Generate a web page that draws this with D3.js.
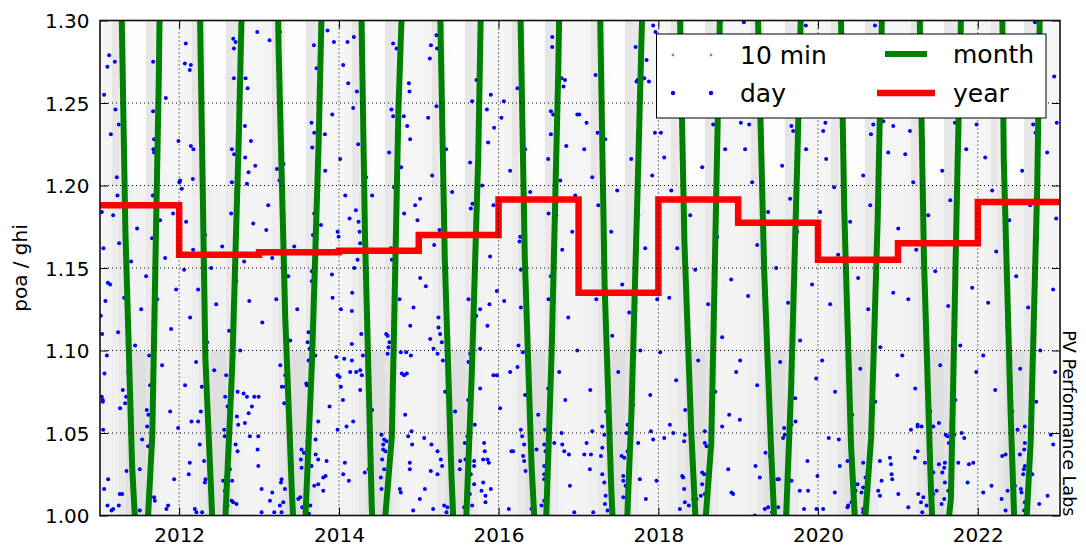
<!DOCTYPE html>
<html>
<head>
<meta charset="utf-8">
<script src="https://cdn.jsdelivr.net/npm/d3@7"></script>
<style>
  body { margin: 0; background: #fff; }
  svg { font-family: "DejaVu Sans", sans-serif; }
</style>
</head>
<body>
<div id="chart"></div>
<script>
// yearly mean poa/ghi (step line)
var yearList   = [2011, 2012, 2013, 2014, 2015, 2016, 2017, 2018, 2019, 2020, 2021, 2022];
var yearValues = [1.188, 1.158, 1.1595, 1.1605, 1.170, 1.1915, 1.135, 1.1915, 1.1775, 1.155, 1.165, 1.190];

// monthly means, Jan..Dec (plotted at month end)
var month2011 = [1.78, 1.60, 1.405, 1.173, 1.030, 0.955, 0.970, 1.048, 1.265, 1.600, 1.72, 1.80];
var month2012 = [1.76, 1.58, 1.350, 1.095, 1.000, 0.933, 1.000, 1.091, 1.230, 1.410, 1.70, 1.78];
var month2013 = [1.75, 1.55, 1.2825, 1.121, 1.013, 0.934, 0.997, 1.095, 1.226, 1.405, 1.70, 1.78];
var month2014 = [1.76, 1.60, 1.420, 1.170, 1.006, 0.910, 0.998, 1.048, 1.246, 1.366, 1.68, 1.77];
var month2015 = [1.77, 1.58, 1.370, 1.156, 1.023, 0.926, 0.977, 1.084, 1.217, 1.448, 1.70, 1.79];
var month2016 = [1.76, 1.57, 1.380, 1.156, 1.030, 0.955, 0.975, 1.100, 1.269, 1.510, 1.71, 1.78];
var month2017 = [1.75, 1.58, 1.380, 1.140, 1.0145, 0.9275, 0.961, 1.063, 1.208, 1.367, 1.69, 1.77];
var month2018 = [1.76, 1.58, 1.370, 1.166, 1.052, 0.970, 0.989, 1.044, 1.243, 1.440, 1.70, 1.78];
var month2019 = [1.75, 1.55, 1.310, 1.148, 1.042, 0.952, 0.971, 1.077, 1.223, 1.395, 1.69, 1.77];
var month2020 = [1.76, 1.59, 1.420, 1.186, 1.043, 0.967, 0.991, 1.047, 1.179, 1.377, 1.70, 1.78];
var month2021 = [1.76, 1.58, 1.380, 1.154, 1.019, 0.923, 0.972, 1.010, 1.210, 1.387, 1.70, 1.78];
var month2022 = [1.77, 1.66, 1.600, 1.215, 1.063, 0.946, 0.967, 1.045, 1.200, 1.480, 1.70, 1.78];

// 10 min cloud: typical grey density per calendar month, in three value bands
var tenMinLow  = [0.10, 0.11, 0.13, 0.18, 0.24, 0.26, 0.26, 0.22, 0.15, 0.10, 0.09, 0.09]; // 1.00-1.10
var tenMinMid  = [0.09, 0.10, 0.14, 0.20, 0.14, 0.11, 0.11, 0.18, 0.20, 0.11, 0.09, 0.08]; // 1.10-1.20
var tenMinHigh = [0.08, 0.09, 0.20, 0.14, 0.02, 0.01, 0.03, 0.20, 0.18, 0.09, 0.08, 0.08]; // 1.20-1.30

// daily values [decimal year, poa/ghi]
var dayDots = [
  [2011.123,1.279],[2011.101,1.272],[2011.194,1.275],[2011.060,1.255],[2011.202,1.246],[2011.244,1.237],[2011.144,1.231],
  [2011.674,1.275],[2011.833,1.253],[2011.674,1.245],[2012.083,1.286],[2012.071,1.274],[2012.146,1.273],[2012.133,1.270],
  [2012.676,1.289],[2012.705,1.287],[2012.684,1.283],[2012.684,1.265],[2012.830,1.265],[2012.855,1.259],[2012.822,1.236],
  [2012.976,1.293],[2013.130,1.288],[2013.260,1.293],[2013.686,1.285],[2013.857,1.294],[2013.937,1.287],[2013.719,1.271],
  [2013.916,1.243],[2013.656,1.238],[2013.690,1.232],[2013.824,1.231],[2014.107,1.287],[2014.187,1.290],[2014.053,1.273],
  [2014.116,1.262],[2014.225,1.257],[2014.178,1.247],[2014.679,1.286],[2014.721,1.283],[2014.876,1.262],[2014.884,1.257],
  [2014.658,1.246],[2014.679,1.242],[2014.813,1.242],[2014.855,1.236],[2015.118,1.241],[2015.222,1.291],[2015.152,1.285],
  [2015.230,1.283],[2015.139,1.277],[2015.222,1.248],[2015.723,1.264],[2015.669,1.251],[2015.903,1.255],[2015.853,1.246],
  [2016.066,1.251],[2016.036,1.241],[2015.944,1.235],[2016.236,1.259],[2016.286,1.294],[2016.671,1.290],[2016.671,1.284],
  [2016.787,1.265],[2016.830,1.264],[2016.812,1.260],[2016.654,1.245],[2016.683,1.243],[2016.654,1.231],[2016.984,1.243],
  [2017.935,1.297],[2017.964,1.293],[2017.714,1.284],[2017.852,1.276],[2017.739,1.264],[2017.726,1.263],[2017.823,1.265],
  [2017.882,1.263],[2017.213,1.267],[2017.100,1.238],[2017.009,1.243],[2017.238,1.232],[2017.957,1.232],[2018.032,1.232],
  [2018.687,1.237],[2019.034,1.238],[2019.138,1.237],[2019.667,1.236],[2019.689,1.233],[2020.065,1.233],[2020.093,1.238],
  [2020.662,1.231],[2020.691,1.237],[2020.816,1.239],[2020.941,1.236],[2021.150,1.233],[2021.714,1.238],[2021.984,1.237],
  [2022.694,1.237],[2022.723,1.232],[2022.990,1.238],[2022.957,1.266],[2019.848,1.297],[2019.071,1.299],[2022.716,1.299],
  [2020.712,1.297],
  [2011.048,1.052],[2011.599,1.054],[2011.987,1.053],[2011.536,1.046],[2011.611,1.042],[2011.340,1.027],[2011.507,1.028],
  [2011.110,1.022],[2011.060,1.016],[2011.256,1.013],[2011.286,1.013],[2011.173,1.004],[2011.102,1.006],[2011.152,1.003],
  [2011.244,1.006],[2011.937,1.022],[2011.862,1.006],[2011.841,1.004],[2011.686,1.011],[2011.695,1.009],[2011.507,1.003],
  [2012.154,1.057],[2012.237,1.057],[2012.258,1.043],[2012.133,1.032],[2012.312,1.033],[2012.120,1.025],[2012.329,1.022],
  [2012.321,1.020],[2012.571,1.048],[2012.563,1.052],[2012.705,1.043],[2012.730,1.039],[2012.634,1.028],[2012.550,1.021],
  [2012.663,1.021],[2012.571,1.015],[2012.655,1.009],[2012.676,1.008],[2012.605,1.006],[2012.717,1.007],[2012.196,1.004],
  [2012.216,1.002],[2012.287,1.002],[2012.822,1.056],[2012.884,1.048],[2012.989,1.048],[2012.738,1.055],[2012.980,1.040],
  [2012.989,1.030],[2013.030,1.016],[2013.164,1.014],[2013.135,1.009],[2013.030,1.002],[2013.189,1.002],[2013.260,1.006],
  [2013.281,1.002],[2013.281,1.022],[2013.273,1.020],[2013.323,1.016],[2013.302,1.008],[2013.531,1.040],[2013.561,1.038],
  [2013.607,1.045],[2013.707,1.046],[2013.707,1.037],[2013.740,1.034],[2013.523,1.034],[2013.531,1.029],[2013.657,1.030],
  [2013.845,1.033],[2013.832,1.024],[2013.803,1.023],[2013.740,1.019],[2013.803,1.015],[2013.690,1.018],[2013.515,1.011],
  [2013.490,1.010],[2013.640,1.006],[2013.623,1.001],[2013.540,1.005],[2013.740,1.057],[2013.982,1.052],[2014.095,1.054],
  [2014.178,1.057],[2014.074,1.032],[2014.053,1.025],[2014.124,1.021],[2014.324,1.026],[2014.374,1.028],[2014.533,1.049],
  [2014.566,1.046],[2014.554,1.043],[2014.596,1.045],[2014.554,1.040],[2014.583,1.039],[2014.541,1.034],[2014.525,1.023],
  [2014.533,1.016],[2014.763,1.016],[2014.775,1.014],[2014.566,1.028],[2015.013,1.010],[2014.930,1.003],[2014.917,1.043],
  [2014.909,1.051],[2014.867,1.048],[2014.888,1.028],[2014.888,1.032],[2015.068,1.047],[2015.159,1.043],[2015.235,1.039],
  [2015.276,1.034],[2015.293,1.030],[2015.151,1.027],[2015.235,1.025],[2015.076,1.016],[2015.180,1.004],[2015.702,1.055],
  [2015.610,1.048],[2015.577,1.044],[2015.585,1.034],[2015.518,1.033],[2015.694,1.033],[2015.694,1.030],[2015.514,1.028],
  [2015.652,1.025],[2015.819,1.044],[2015.827,1.039],[2015.807,1.034],[2015.861,1.034],[2015.878,1.032],[2015.903,1.016],
  [2015.807,1.020],[2015.786,1.015],[2015.836,1.012],[2015.836,1.008],[2015.694,1.019],[2015.318,1.006],[2015.360,1.005],
  [2015.347,1.002],[2015.669,1.006],[2015.569,1.005],[2015.640,1.013],[2016.278,1.052],[2016.295,1.048],[2016.579,1.052],
  [2016.787,1.050],[2016.320,1.043],[2016.475,1.040],[2016.571,1.043],[2016.587,1.039],[2016.696,1.044],[2016.796,1.043],
  [2016.821,1.039],[2016.879,1.037],[2016.182,1.039],[2016.161,1.039],[2016.307,1.036],[2016.320,1.033],[2016.337,1.027],
  [2016.571,1.030],[2016.571,1.025],[2016.571,1.022],[2016.128,1.004],[2016.412,1.004],[2016.571,1.009],[2016.537,1.006],
  [2016.892,1.018],[2016.946,1.002],
  [2017.171,1.051],[2017.297,1.054],[2017.322,1.049],[2017.100,1.044],[2017.071,1.037],[2017.155,1.037],[2017.280,1.036],
  [2017.297,1.041],[2017.142,1.028],[2017.297,1.025],[2017.322,1.020],[2017.338,1.012],[2017.330,1.007],[2017.363,1.003],
  [2017.184,1.002],[2017.614,1.055],[2017.601,1.050],[2017.664,1.051],[2017.747,1.044],[2017.539,1.036],[2017.572,1.035],
  [2017.614,1.039],[2017.560,1.024],[2017.560,1.021],[2017.768,1.022],[2017.977,1.021],[2017.843,1.010],[2017.906,1.051],
  [2017.935,1.046],[2017.589,1.018],[2017.560,1.011],[2018.073,1.047],[2018.186,1.050],[2018.144,1.055],[2018.332,1.049],
  [2018.323,1.045],[2018.582,1.051],[2018.582,1.044],[2018.603,1.042],[2018.298,1.024],[2018.311,1.023],[2018.323,1.016],
  [2018.269,1.004],[2018.332,1.008],[2018.382,1.006],[2018.436,1.010],[2018.478,1.010],[2018.532,1.012],[2018.549,1.026],
  [2018.574,1.025],[2018.549,1.019],[2018.582,1.013],[2018.875,1.028],[2018.916,1.014],[2018.937,1.013],[2018.799,1.054],
  [2019.021,1.058],[2019.576,1.053],[2019.584,1.049],[2019.563,1.047],[2019.668,1.055],[2019.718,1.057],[2019.342,1.038],
  [2019.396,1.036],[2019.217,1.030],[2019.271,1.023],[2019.492,1.022],[2019.509,1.022],[2019.668,1.021],[2019.618,1.018],
  [2019.772,1.015],[2019.876,1.015],[2019.993,1.024],[2019.868,1.033],[2019.334,1.004],[2019.375,1.005],[2019.426,1.002],
  [2019.501,1.005],[2019.209,1.000],[2019.826,1.004],[2019.981,1.004],[2020.135,1.047],[2020.260,1.046],[2020.411,1.049],
  [2020.064,1.004],[2020.273,1.030],[2020.369,1.033],[2020.565,1.032],[2020.774,1.033],[2020.899,1.035],[2020.912,1.031],
  [2020.920,1.025],[2020.928,1.022],[2020.795,1.021],[2020.594,1.023],[2020.494,1.019],[2020.565,1.017],[2020.544,1.014],
  [2020.753,1.015],[2020.774,1.012],[2020.469,1.015],[2020.419,1.008],[2020.377,1.006],[2020.369,1.005],[2020.565,1.004],
  [2020.565,1.002],[2020.210,1.014],[2021.004,1.013],[2021.129,1.005],[2021.317,1.011],[2021.288,1.008],[2021.304,1.002],
  [2021.358,1.006],[2021.162,1.052],[2021.246,1.055],[2021.246,1.054],[2021.296,1.054],[2021.400,1.051],[2021.442,1.054],
  [2021.513,1.056],[2021.672,1.056],[2021.622,1.048],[2021.597,1.049],[2021.638,1.044],[2021.246,1.039],[2021.212,1.035],
  [2021.338,1.032],[2021.442,1.026],[2021.513,1.031],[2021.588,1.032],[2021.555,1.026],[2021.580,1.029],[2021.588,1.020],
  [2021.484,1.015],[2021.630,1.015],[2021.442,1.013],[2021.429,1.011],[2021.580,1.010],[2021.546,1.007],[2021.755,1.032],
  [2021.889,1.031],[2021.943,1.032],[2021.872,1.020],[2021.797,1.050],[2021.830,1.047],[2021.705,1.049],[2021.254,1.013],
  [2022.068,1.014],[2022.172,1.018],[2022.298,1.010],[2022.373,1.015],[2022.465,1.018],[2022.540,1.016],[2022.590,1.044],
  [2022.582,1.040],[2022.527,1.037],[2022.348,1.037],[2022.306,1.036],[2022.498,1.052],[2022.590,1.054],[2022.577,1.028],
  [2022.590,1.030],[2022.569,1.025],[2022.444,1.022],[2022.348,1.003],[2022.582,1.003],[2022.590,1.008],[2022.682,1.025],
  [2022.769,1.007],[2022.874,1.012],[2022.915,1.049],[2022.945,1.043],[2022.548,1.014],
  [2013.690,1.183],[2013.774,1.176],[2013.674,1.170],[2013.661,1.148],[2013.661,1.142],[2013.619,1.111],[2013.607,1.105],
  [2013.632,1.101],[2013.703,1.097],[2013.619,1.094],[2013.912,1.146],[2013.920,1.132],[2013.983,1.172],[2013.995,1.169],
  [2014.024,1.125],[2013.966,1.096],[2013.983,1.085],[2014.008,1.084],[2014.066,1.095],[2014.133,1.180],[2014.246,1.178],
  [2014.212,1.185],[2014.258,1.172],[2014.266,1.165],[2014.233,1.155],[2014.191,1.150],[2014.166,1.135],[2014.162,1.124],
  [2014.279,1.110],[2014.162,1.104],[2014.162,1.094],[2014.141,1.087],[2014.216,1.087],[2014.266,1.088],[2014.287,1.085],
  [2014.300,1.097],[2014.592,1.110],[2014.609,1.109],[2014.634,1.105],[2014.621,1.102],[2014.609,1.098],[2014.675,1.096],
  [2014.663,1.155],[2014.651,1.162],[2014.759,1.131],[2014.817,1.183],[2014.955,1.188],[2014.984,1.179],[2014.934,1.126],
  [2014.893,1.115],[2015.018,1.144],[2015.089,1.139],[2014.776,1.099],[2014.843,1.099],[2014.901,1.097],[2014.788,1.086],
  [2014.817,1.085],[2014.851,1.086],[2015.260,1.173],[2015.193,1.164],[2015.247,1.120],[2015.247,1.114],[2015.268,1.110],
  [2015.289,1.105],[2015.302,1.094],[2015.143,1.107],[2015.185,1.101],[2015.235,1.098],[2015.673,1.189],[2015.652,1.186],
  [2015.936,1.188],[2015.894,1.157],[2015.623,1.131],[2015.686,1.129],[2015.769,1.125],[2015.719,1.121],[2015.861,1.115],
  [2015.978,1.136],[2015.886,1.128],[2016.070,1.130],[2015.623,1.093],[2015.644,1.098],[2015.769,1.101],[2015.936,1.085],
  [2015.978,1.085],[2016.145,1.087],[2016.237,1.090],[2016.270,1.169],[2016.262,1.166],[2016.279,1.149],[2016.654,1.145],
  [2016.625,1.131],[2016.279,1.126],[2016.249,1.103],[2016.304,1.099],[2016.625,1.183],
  [2011.294,1.076],[2011.336,1.072],[2011.323,1.068],[2011.043,1.070],[2011.260,1.065],[2011.636,1.079],[2011.594,1.064],
  [2011.615,1.061],[2011.887,1.063],[2012.074,1.079],[2012.283,1.078],[2012.271,1.063],[2012.575,1.072],[2012.605,1.066],
  [2012.730,1.075],[2012.805,1.074],[2012.847,1.072],[2012.939,1.072],[2012.993,1.072],[2012.909,1.066],[2012.868,1.062],
  [2012.722,1.060],[2013.327,1.078],[2013.285,1.078],[2013.314,1.068],[2013.590,1.080],[2013.598,1.079],[2013.882,1.066],
  [2014.024,1.078],[2014.049,1.070],
  [2011.219,1.205],[2011.227,1.194],[2011.678,1.222],[2011.686,1.220],[2011.670,1.194],[2012.012,1.203],[2012.003,1.202],
  [2012.033,1.198],[2012.171,1.204],[2012.284,1.198],[2012.659,1.202],[2012.847,1.201],[2012.867,1.208],[2012.951,1.212],
  [2013.223,1.210],[2013.255,1.203],[2013.306,1.213],[2012.826,1.217],[2012.897,1.227],[2012.659,1.222],[2012.688,1.219],
  [2011.991,1.227],[2012.146,1.224],[2012.178,1.222],[2011.686,1.228],
  [2011.031,1.184],[2011.051,1.162],[2011.106,1.141],[2011.076,1.130],[2011.019,1.121],[2011.035,1.110],[2011.094,1.097],
  [2011.064,1.086],[2011.031,1.072],[2011.044,1.069],
  [2011.173,1.182],[2011.248,1.165],[2011.398,1.154],[2011.473,1.174],[2011.311,1.132],[2011.524,1.125],[2011.235,1.111],
  [2011.586,1.145],[2011.661,1.168],[2011.761,1.179],[2011.724,1.131],[2011.824,1.156],[2011.899,1.113],[2011.624,1.097],
  [2011.361,1.087],[2011.786,1.091],[2011.962,1.137],[2011.448,1.103],[2011.135,1.140],[2011.924,1.183],
  [2012.087,1.178],[2012.175,1.161],[2012.325,1.170],[2012.400,1.150],[2012.237,1.137],[2012.463,1.128],[2012.538,1.163],
  [2012.650,1.183],[2012.713,1.142],[2012.813,1.154],[2012.625,1.112],[2012.350,1.105],[2012.137,1.120],[2012.876,1.130],
  [2012.763,1.100],[2012.438,1.088],[2012.212,1.093],[2012.926,1.177],[2012.588,1.085],[2012.062,1.149],
  [2013.089,1.173],[2013.164,1.156],[2013.302,1.182],[2013.364,1.145],[2013.439,1.163],[2013.214,1.131],[2013.039,1.117],
  [2013.389,1.106],[2013.264,1.091],[2013.477,1.125],[2013.114,1.188],[2013.327,1.085],
  [2013.665,1.223],[2013.828,1.209],[2013.740,1.197],[2014.016,1.216],[2014.241,1.225],[2014.341,1.205],[2014.416,1.194],
  [2014.629,1.220],[2014.779,1.211],[2014.692,1.199],[2014.892,1.228],[2015.168,1.206],[2015.343,1.222],[2015.418,1.196],
  [2015.643,1.214],[2015.794,1.200],[2015.869,1.226],[2016.145,1.209],[2016.332,1.222],[2016.395,1.196],[2016.620,1.216],
  [2016.771,1.203],[2016.846,1.224],[2016.958,1.194],[2015.017,1.192],[2014.079,1.194],
  [2016.721,1.182],[2016.796,1.161],[2016.921,1.172],[2016.683,1.137],[2016.871,1.120],[2016.984,1.100],[2016.758,1.087],
  [2016.834,1.070],[2014.266,1.076],[2014.416,1.064],[2014.667,1.071],[2014.830,1.061],[2015.331,1.075],[2015.456,1.063],
  [2015.619,1.070],[2015.769,1.077],[2016.019,1.065],[2016.332,1.073],[2016.495,1.061],[2016.620,1.077],
  [2017.071,1.222],[2017.171,1.205],[2017.247,1.188],[2017.334,1.228],[2017.409,1.172],[2017.309,1.154],[2017.484,1.197],
  [2017.547,1.140],[2017.660,1.216],[2017.747,1.182],[2017.835,1.162],[2017.923,1.206],[2017.635,1.123],[2017.422,1.109],
  [2017.222,1.131],[2017.773,1.100],[2017.497,1.087],[2017.146,1.076],[2017.898,1.073],[2017.347,1.063],[2017.685,1.067],
  [2017.985,1.131],
  [2018.073,1.217],[2018.161,1.197],[2018.311,1.226],[2018.399,1.182],[2018.236,1.162],[2018.461,1.149],[2018.549,1.211],
  [2018.649,1.191],[2018.737,1.169],[2018.837,1.222],[2018.912,1.143],[2018.624,1.128],[2018.374,1.117],[2018.136,1.132],
  [2018.799,1.108],[2018.499,1.094],[2018.223,1.082],[2018.712,1.075],[2018.975,1.087],[2018.336,1.064],[2018.887,1.061],
  [2018.023,1.099],
  [2019.087,1.222],[2019.175,1.202],[2019.300,1.228],[2019.375,1.184],[2019.238,1.164],[2019.476,1.150],[2019.551,1.212],
  [2019.651,1.192],[2019.739,1.172],[2019.851,1.222],[2019.926,1.140],[2019.626,1.129],[2019.350,1.115],[2019.125,1.133],
  [2019.776,1.106],[2019.526,1.093],[2019.238,1.079],[2019.714,1.071],[2019.977,1.083],[2019.400,1.064],[2019.025,1.094],
  [2020.027,1.184],
  [2020.102,1.216],[2020.202,1.199],[2020.327,1.225],[2020.402,1.178],[2020.252,1.158],[2020.502,1.144],[2020.565,1.206],
  [2020.653,1.188],[2020.740,1.167],[2020.878,1.220],[2020.941,1.135],[2020.628,1.125],[2020.377,1.112],[2020.152,1.128],
  [2020.778,1.102],[2020.528,1.089],[2020.214,1.075],[2020.715,1.069],[2020.991,1.085],[2020.427,1.061],[2020.052,1.094],
  [2021.003,1.174],
  [2021.091,1.219],[2021.191,1.202],[2021.316,1.226],[2021.379,1.182],[2021.229,1.161],[2021.467,1.148],[2021.554,1.209],
  [2021.655,1.191],[2021.730,1.169],[2021.855,1.222],[2021.930,1.138],[2021.629,1.127],[2021.367,1.112],[2021.129,1.131],
  [2021.780,1.103],[2021.529,1.091],[2021.216,1.077],[2021.717,1.070],[2021.980,1.087],[2021.404,1.063],[2021.053,1.097],
  [2022.005,1.178],
  [2022.093,1.217],[2022.180,1.197],[2022.318,1.225],[2022.393,1.179],[2022.231,1.160],[2022.481,1.145],[2022.556,1.209],
  [2022.656,1.188],[2022.744,1.167],[2022.869,1.220],[2022.944,1.137],[2022.631,1.126],[2022.368,1.114],[2022.130,1.129],
  [2022.782,1.100],[2022.531,1.089],[2022.218,1.076],[2022.732,1.069],[2022.969,1.087],[2022.431,1.063],[2022.068,1.097],
  [2022.982,1.180]
];

var xTickYears = [2012, 2014, 2016, 2018, 2020, 2022];
var yTicks = [1.00, 1.05, 1.10, 1.15, 1.20, 1.25, 1.30];

// ---------------------------------------------------------------

var margin = {top: 20.5, left: 100},
    width = 960,
    height = 495;

var svg = d3.select("#chart")
  .append("svg")
    .attr("width", 1086)
    .attr("height", 546);

var g = svg.append("g")
    .attr("transform", "translate(" + margin.left + "," + margin.top + ")");

var x = d3.scaleUtc()
  .domain([new Date(Date.UTC(2011, 0, 4)), new Date(Date.UTC(2023, 0, 12))])
  .range([0, width]);

var y = d3.scaleLinear()
  .domain([1.0, 1.3])
  .range([height, 0]);

function fromDecimal(t) {
  var yr = Math.floor(t), a = Date.UTC(yr, 0, 1), b = Date.UTC(yr + 1, 0, 1);
  return new Date(a + (t - yr) * (b - a));
}

svg.append("defs").append("clipPath").attr("id", "clip")
  .append("rect").attr("width", width).attr("height", height);

var plot = g.append("g").attr("clip-path", "url(#clip)");

// 10 min cloud
var bands = [
  {lo: 1.00, hi: 1.10, dens: tenMinLow},
  {lo: 1.10, hi: 1.20, dens: tenMinMid},
  {lo: 1.20, hi: 1.30, dens: tenMinHigh}
];
var cells = [];
yearList.forEach(function(yr) {
  for (var m = 0; m < 12; m++) {
    bands.forEach(function(b) {
      cells.push({start: new Date(Date.UTC(yr, m, 1)), end: new Date(Date.UTC(yr, m + 1, 1)),
                  lo: b.lo, hi: b.hi, d: b.dens[m]});
    });
  }
});
plot.append("g").selectAll("rect")
  .data(cells)
  .enter().append("rect")
    .attr("x", function(d) { return x(d.start); })
    .attr("width", function(d) { return x(d.end) - x(d.start); })
    .attr("y", function(d) { return y(d.hi); })
    .attr("height", function(d) { return y(d.lo) - y(d.hi); })
    .attr("fill", "#808080")
    .attr("fill-opacity", function(d) { return d.d; })
    .attr("shape-rendering", "crispEdges");

// grid
var grid = g.append("g");
grid.selectAll("line.gx")
  .data(xTickYears)
  .enter().append("line")
    .attr("x1", function(d) { return x(new Date(Date.UTC(d, 0, 1))); })
    .attr("x2", function(d) { return x(new Date(Date.UTC(d, 0, 1))); })
    .attr("y1", 0).attr("y2", height)
    .attr("stroke", "#000").attr("stroke-width", 1).attr("stroke-dasharray", "1,3");
grid.selectAll("line.gy")
  .data(yTicks)
  .enter().append("line")
    .attr("x1", 0).attr("x2", width)
    .attr("y1", function(d) { return y(d); })
    .attr("y2", function(d) { return y(d); })
    .attr("stroke", "#000").attr("stroke-width", 1).attr("stroke-dasharray", "1,3");

// daily dots
plot.append("g").selectAll("circle")
  .data(dayDots)
  .enter().append("circle")
    .attr("cx", function(d) { return x(fromDecimal(d[0])); })
    .attr("cy", function(d) { return y(d[1]); })
    .attr("r", 2)
    .attr("fill", "#0000ff");

// monthly line
var monthSeries = [month2011, month2012, month2013, month2014, month2015, month2016,
                   month2017, month2018, month2019, month2020, month2021, month2022];
var monthPts = [];
monthSeries.forEach(function(vals, i) {
  vals.forEach(function(v, m) {
    monthPts.push({date: new Date(Date.UTC(yearList[i], m + 1, 0)), value: v});
  });
});
plot.append("path")
  .datum(monthPts)
  .attr("fill", "none")
  .attr("stroke", "#008000")
  .attr("stroke-width", 6)
  .attr("d", d3.line()
    .x(function(d) { return x(d.date); })
    .y(function(d) { return y(d.value); }));

// yearly step line
var yearPts = yearList.map(function(yr, i) {
  return {date: new Date(Date.UTC(yr, 0, 1)), value: yearValues[i]};
});
yearPts.push({date: new Date(Date.UTC(2023, 1, 1)), value: yearValues[yearValues.length - 1]});
plot.append("path")
  .datum(yearPts)
  .attr("fill", "none")
  .attr("stroke", "#ff0000")
  .attr("stroke-width", 6.5)
  .attr("d", d3.line()
    .curve(d3.curveStepAfter)
    .x(function(d) { return x(d.date); })
    .y(function(d) { return y(d.value); }));

// axes (ticks inside, on all sides)
var xTickDates = xTickYears.map(function(d) { return new Date(Date.UTC(d, 0, 1)); });

var xAxis = g.append("g")
  .attr("transform", "translate(0," + height + ")")
  .call(d3.axisBottom(x).tickValues(xTickDates).tickFormat(d3.utcFormat("%Y"))
    .tickSizeInner(-8).tickSizeOuter(0).tickPadding(12));
g.append("g")
  .call(d3.axisTop(x).tickValues(xTickDates).tickFormat("")
    .tickSizeInner(-8).tickSizeOuter(0));
var yAxis = g.append("g")
  .call(d3.axisLeft(y).tickValues(yTicks).tickFormat(d3.format(".2f"))
    .tickSizeInner(-8).tickSizeOuter(0).tickPadding(10.5));
g.append("g")
  .attr("transform", "translate(" + width + ",0)")
  .call(d3.axisRight(y).tickValues(yTicks).tickFormat("")
    .tickSizeInner(-8).tickSizeOuter(0));

g.selectAll(".domain").remove();
g.selectAll(".tick line").attr("stroke", "#000").attr("stroke-width", 1);
xAxis.selectAll("text").attr("font-size", 20).attr("font-family", "DejaVu Sans").attr("fill", "#000");
yAxis.selectAll("text").attr("font-size", 20).attr("font-family", "DejaVu Sans").attr("fill", "#000")
  .attr("dy", "0.36em");

// frame
g.append("rect")
  .attr("width", width).attr("height", height)
  .attr("fill", "none").attr("stroke", "#111").attr("stroke-width", 1.6);

// y label
svg.append("text")
  .attr("transform", "translate(27," + (margin.top + height / 2) + ") rotate(-90)")
  .attr("text-anchor", "middle")
  .attr("font-size", 20)
  .text("poa / ghi");

// side note
svg.append("text")
  .attr("transform", "translate(1063," + (margin.top + height + 1) + ") rotate(90)")
  .attr("text-anchor", "end")
  .attr("font-size", 17.6)
  .text("PV Performance Labs");

// legend
var leg = svg.append("g");
leg.append("rect")
  .attr("x", 656.5).attr("y", 34).attr("width", 389.5).attr("height", 84)
  .attr("fill", "#fff").attr("stroke", "#000").attr("stroke-width", 1);
[673, 711].forEach(function(cx) {
  leg.append("circle").attr("cx", cx).attr("cy", 55).attr("r", 1.4).attr("fill", "#8a8a8a");
  leg.append("circle").attr("cx", cx).attr("cy", 93).attr("r", 2.2).attr("fill", "#0000ff");
});
leg.append("line").attr("x1", 885).attr("x2", 927).attr("y1", 54).attr("y2", 54)
  .attr("stroke", "#008000").attr("stroke-width", 6);
leg.append("line").attr("x1", 877).attr("x2", 935).attr("y1", 93).attr("y2", 93)
  .attr("stroke", "#ff0000").attr("stroke-width", 6.5);
[["10 min", 740, 55], ["day", 740, 93], ["month", 953, 54], ["year", 953, 93]].forEach(function(t) {
  leg.append("text").attr("x", t[1]).attr("y", t[2]).attr("dy", "0.36em")
    .attr("font-size", 25).text(t[0]);
});
</script>
</body>
</html>
